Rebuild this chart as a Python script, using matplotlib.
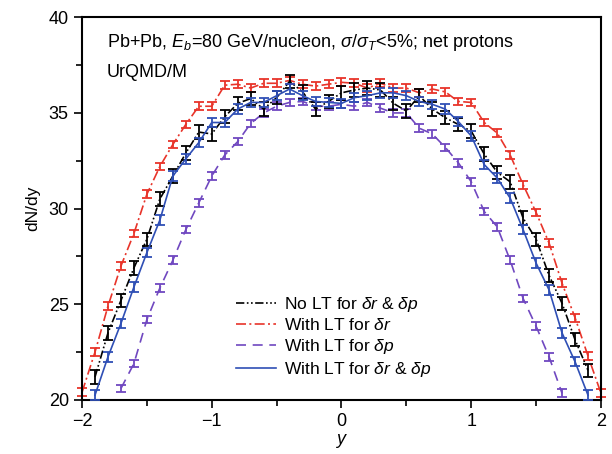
import numpy as np
import matplotlib
matplotlib.use("Agg")
import matplotlib.pyplot as plt
from matplotlib.ticker import MultipleLocator

plt.rcParams['font.family'] = ['Liberation Sans', 'DejaVu Sans']
plt.rcParams['mathtext.fontset'] = 'custom'
plt.rcParams['mathtext.rm'] = 'Liberation Sans'
plt.rcParams['mathtext.it'] = 'Liberation Sans:italic'

# rapidity points
y_red = np.round(np.arange(-2.0, 2.01, 0.1), 1)
y_black = np.round(np.arange(-1.9, 1.91, 0.1), 1)
y_purple = np.round(np.arange(-1.7, 1.71, 0.1), 1)
y_blue = np.round(np.arange(-1.9, 1.91, 0.1), 1)

# No LT for dr & dp
no_lt = [21.2, 23.5, 25.2, 26.9, 28.4, 30.5, 31.7, 32.9, 34.0, 33.9,
         34.8, 35.5, 35.75, 35.2, 35.8, 36.65, 36.1, 35.2, 35.6, 36.05,
         36.2, 36.3, 36.2, 35.5, 35.1, 35.9, 35.2, 34.75, 34.4, 34.05,
         32.85, 31.9, 31.4, 29.5, 28.4, 26.5, 25.05, 23.15, 21.55]
no_lt_err = [0.35] * len(no_lt)

# With LT for dr
lt_r = [20.4, 22.5, 24.9, 27.0, 28.7, 30.75, 32.2, 33.35, 34.4, 35.35,
        35.35, 36.45, 36.5, 36.3, 36.55, 36.55, 36.7, 36.5, 36.4, 36.5,
        36.6, 36.55, 36.3, 36.55, 36.3, 36.3, 36.05, 36.25, 36.1, 35.6,
        35.55, 34.5, 33.95, 32.8, 31.25, 29.8, 28.2, 26.1, 24.3, 22.3,
        20.35]
lt_r_err = [0.2] * len(lt_r)

# With LT for dp
lt_p = [20.6, 21.9, 24.2, 25.85, 27.3, 28.9, 30.3, 31.7, 32.8, 33.5,
        34.45, 35.0, 35.35, 35.55, 35.6, 35.35, 35.35, 35.45, 35.35, 35.55,
        35.25, 35.0, 35.0, 34.2, 33.9, 33.2, 32.4, 31.4, 29.85, 29.05,
        27.3, 25.3, 23.85, 22.25, 20.35]
lt_p_err = [0.2] * len(lt_p)

# With LT for dr & dp
lt_rp = [20.25, 22.25, 24.0, 25.9, 27.7, 29.4, 31.7, 32.6, 33.45, 34.5,
         34.5, 35.2, 35.55, 35.55, 35.9, 36.25, 35.9, 35.6, 35.55, 35.5,
         35.8, 35.9, 36.05, 36.05, 35.9, 35.6, 35.45, 35.2, 34.55, 33.8,
         32.3, 31.6, 30.55, 28.9, 27.15, 25.75, 23.5, 22.0, 20.25]
lt_rp_err = [0.25] * len(lt_rp)

fig = plt.figure(figsize=(6.12, 4.54), dpi=100)
ax = fig.add_axes([0.134, 0.119, 0.848, 0.843])

red = '#e8342a'
purple = '#7048c0'
blue = '#2f4fb5'

series = [
    (y_black, no_lt, no_lt_err, 'black', (0, (5, 1.5, 1, 1.5, 1, 1.5)),
     r'No LT for $\delta r$ & $\delta p$', 3),
    (y_red, lt_r, lt_r_err, red, (0, (6, 2, 1.2, 2)),
     r'With LT for $\delta r$', 2),
    (y_purple, lt_p, lt_p_err, purple, (0, (6, 4)),
     r'With LT for $\delta p$', 2),
    (y_blue, lt_rp, lt_rp_err, blue, '-',
     r'With LT for $\delta r$ & $\delta p$', 4),
]
for x, v, e, c, ls, lab, z in series:
    cont = ax.errorbar(x, v, yerr=e, color=c, lw=1.2, ls=ls, capsize=3.5,
                       elinewidth=1.3, capthick=1.3, label=lab, zorder=z)
    for art in [cont[0]] + list(cont[1]) + list(cont[2]):
        art.set_clip_on(False)

ax.set_xlim(-2, 2)
ax.set_ylim(20, 40)
ax.xaxis.set_major_locator(MultipleLocator(1))
ax.xaxis.set_minor_locator(MultipleLocator(0.5))
ax.yaxis.set_major_locator(MultipleLocator(5))
ax.yaxis.set_minor_locator(MultipleLocator(2.5))
ax.xaxis.set_major_formatter(plt.FuncFormatter(lambda v, p: ('%d' % v).replace('-', '\u2212')))
ax.tick_params(which='major', length=6, width=1.2, labelsize=13, direction='out')
ax.tick_params(which='minor', length=4, width=1.2, direction='out')
for s in ax.spines.values():
    s.set_linewidth(1.5)

ax.set_xlabel('$y$', fontsize=13, labelpad=1)
ax.set_ylabel('dN/dy', fontsize=12.5, labelpad=6)

ax.text(0.048, 0.935, r'Pb+Pb, $E_b$=80 GeV/nucleon, $\sigma/\sigma_T$<5%; net protons',
        transform=ax.transAxes, fontsize=13, va='center')
ax.text(0.048, 0.855, 'UrQMD/M', transform=ax.transAxes, fontsize=13, va='center')

handles, labels = ax.get_legend_handles_labels()
handles = [h[0] for h in handles]
ax.legend(handles, labels, loc='center', bbox_to_anchor=(0.485, 0.165),
          frameon=False, fontsize=12.5, handlelength=2.3, handletextpad=0.5,
          labelspacing=0.22)

fig.savefig('out.png', dpi=100)
